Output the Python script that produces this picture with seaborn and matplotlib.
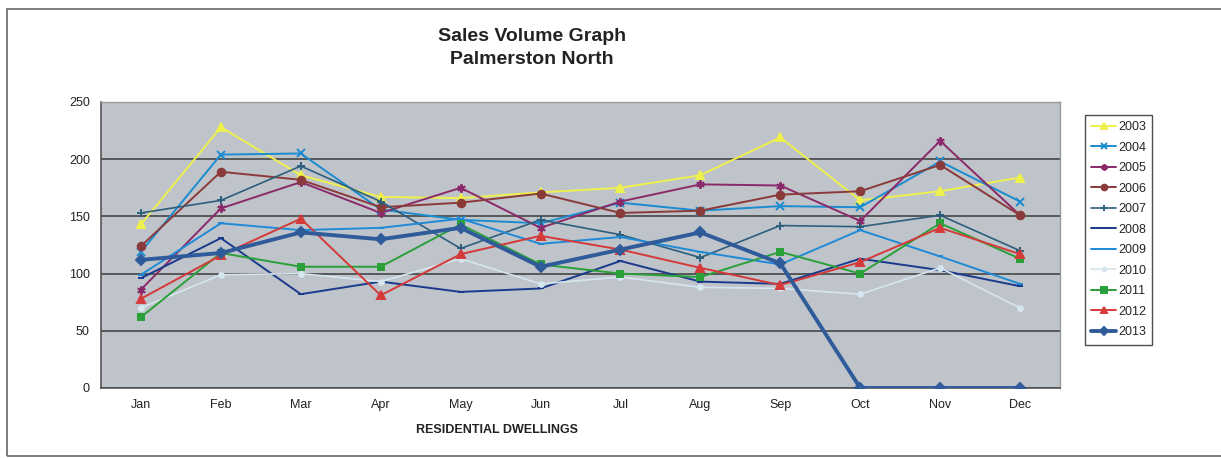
import matplotlib
matplotlib.use("Agg")
import matplotlib.pyplot as plt
import seaborn as sns
import pandas as pd
from matplotlib.patches import Rectangle

# Datos (ventas mensuales por año)
meses = ['Jan', 'Feb', 'Mar', 'Apr', 'May', 'Jun', 'Jul', 'Aug', 'Sep', 'Oct', 'Nov', 'Dec']

v2003 = [143, 228, 186, 167, 166, 171, 175, 186, 219, 164, 172, 184]
v2004 = [119, 204, 205, 156, 147, 144, 162, 155, 159, 158, 198, 163]
v2005 = [86, 157, 180, 153, 175, 140, 163, 178, 177, 146, 216, 151]
v2006 = [124, 189, 182, 158, 162, 170, 153, 155, 169, 172, 195, 151]
v2007 = [153, 164, 194, 163, 122, 147, 134, 114, 142, 141, 151, 120]
v2008 = [96, 131, 82, 93, 84, 87, 111, 93, 91, 113, 103, 89]
v2009 = [99, 144, 138, 140, 148, 126, 132, 119, 108, 138, 115, 91]
v2010 = [70, 99, 100, 93, 113, 91, 97, 88, 87, 82, 105, 70]
v2011 = [62, 118, 106, 106, 143, 108, 100, 97, 119, 100, 144, 113]
v2012 = [78, 116, 148, 81, 117, 133, 121, 105, 90, 110, 140, 117]
v2013 = [112, 118, 136, 130, 140, 106, 121, 136, 109, 0, 0, 0]

anios = ['2003', '2004', '2005', '2006', '2007', '2008', '2009', '2010', '2011', '2012', '2013']
valores = [v2003, v2004, v2005, v2006, v2007, v2008, v2009, v2010, v2011, v2012, v2013]

colores = ['#eef04c', '#1a8ccf', '#8a2a6a', '#8b3a3a', '#2c5f7c', '#1a3a8c',
           '#1f8ad6', '#d6e6ee', '#2aa038', '#d43a3a', '#2f5b9a']
marcadores = ['^', 'x', (6, 2, 0), 'o', '+', '_', '_', 'o', 's', '^', 'D']
tamanos = [5.5, 6, 6, 5.5, 6, 4, 4, 3.5, 5, 5.5, 5]
grosores = [1.4, 1.4, 1.4, 1.4, 1.2, 1.4, 1.4, 1.2, 1.4, 1.4, 2.8]

sns.set_style("white")
plt.rcParams['font.family'] = ['Liberation Sans', 'DejaVu Sans']

fig = plt.figure(figsize=(12.21, 4.58), dpi=100)
ax = fig.add_axes([101 / 1221, 1 - 388 / 458, 959 / 1221, 286 / 458])
ax.set_facecolor('#bfc3ca')

for anio, vals, col, mk, ms, lw in zip(anios, valores, colores, marcadores, tamanos, grosores):
    df = pd.DataFrame({'mes': range(len(meses)), 'ventas': vals})
    sns.lineplot(data=df, x='mes', y='ventas', ax=ax, color=col, marker=mk,
                 markersize=ms, linewidth=lw, markeredgecolor=col,
                 markeredgewidth=1.4, label=anio, zorder=3)

# Ejes y grilla
ax.set_xlim(-0.5, 11.5)
ax.set_ylim(0, 250)
ax.set_yticks(range(0, 251, 50))
ax.set_xticks(range(12))
ax.set_xticklabels(meses)
ax.set_xticks([i + 0.5 for i in range(-1, 12)], minor=True)
ax.tick_params(axis='x', which='major', length=0, pad=8, labelsize=9, colors='#222222')
ax.tick_params(axis='x', which='minor', length=4, width=1, color='#555555')
ax.tick_params(axis='y', length=4, width=1, color='#555555', labelsize=9, labelcolor='#222222', pad=4)
ax.grid(axis='y', color='#3a3a3a', linewidth=1.1, zorder=1)
ax.set_axisbelow(True)
ax.set_xlabel('')
ax.set_ylabel('')
for lado in ['left', 'bottom']:
    ax.spines[lado].set_color('#555555')
    ax.spines[lado].set_linewidth(1.2)
for lado in ['top', 'right']:
    ax.spines[lado].set_color('#9a9a9a')
    ax.spines[lado].set_linewidth(1.0)

# Leyenda
leg = ax.legend(loc='upper left', bbox_to_anchor=(1085 / 1221, 1 - 115 / 458),
                bbox_transform=fig.transFigure, fontsize=9, frameon=True,
                fancybox=False, edgecolor='#222222', labelspacing=0.68,
                handlelength=2.0, handletextpad=0.15, borderpad=0.5,
                borderaxespad=0, markerscale=0.75)
leg.get_frame().set_linewidth(1.0)

# Titulos
fig.text(532 / 1221, 1 - 48 / 458, 'Sales Volume Graph\nPalmerston North', ha='center',
         va='center', fontsize=14, fontweight='bold', color='#222222', linespacing=1.5)
fig.text(497 / 1221, 1 - 430 / 458, 'RESIDENTIAL DWELLINGS', ha='center', va='center',
         fontsize=9, fontweight='bold', color='#222222')

# Marco exterior del grafico
fig.add_artist(Rectangle((7 / 1221, 2 / 458), 1.2, 1 - 11 / 458, transform=fig.transFigure,
                         fill=False, edgecolor='#666666', linewidth=1.2))

fig.savefig('out.png', dpi=100)
